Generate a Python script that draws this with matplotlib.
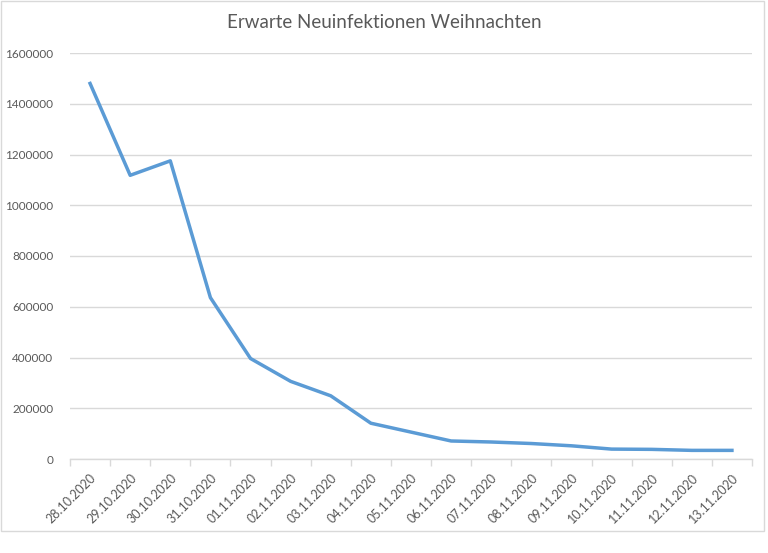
import matplotlib
matplotlib.use("Agg")
import matplotlib.pyplot as plt
from matplotlib.patches import Rectangle

dates = ["28.10.2020", "29.10.2020", "30.10.2020", "31.10.2020", "01.11.2020",
         "02.11.2020", "03.11.2020", "04.11.2020", "05.11.2020", "06.11.2020",
         "07.11.2020", "08.11.2020", "09.11.2020", "10.11.2020", "11.11.2020",
         "12.11.2020", "13.11.2020"]
values = [1480000, 1118000, 1175000, 636000, 396000,
          306000, 249000, 141000, 106000, 71000,
          67000, 61000, 52000, 39000, 38000,
          34000, 34000]
y_ticks = [0, 200000, 400000, 600000, 800000, 1000000, 1200000, 1400000, 1600000]

plt.rcParams["font.family"] = ["Lato", "DejaVu Sans"]
text_col = "#595959"
grid_col = "#d9d9d9"

fig = plt.figure(figsize=(7.68, 5.53), dpi=100)
ax = fig.add_axes([70 / 768, 1 - 459 / 553, (752 - 70) / 768, (459 - 53) / 553])

x = list(range(len(dates)))
ax.plot(x, values, color="#5b9bd5", linewidth=2.5, solid_joinstyle="round")

ax.set_xlim(-0.5, len(dates) - 0.5)
ax.set_ylim(0, 1600000)
ax.set_yticks(y_ticks)
ax.set_yticklabels([str(v) for v in y_ticks], fontsize=8.5, color=text_col)
ax.tick_params(axis="y", length=0, pad=12)
ax.yaxis.grid(True, color=grid_col, linewidth=1)
ax.set_axisbelow(True)

ax.set_xticks(x)
ax.set_xticklabels(dates, rotation=45, ha="right", va="top",
                   rotation_mode="anchor", fontsize=9, color=text_col)
ax.tick_params(axis="x", length=0, pad=9)
ax.set_xticks([i - 0.5 for i in range(len(dates) + 1)], minor=True)
ax.tick_params(axis="x", which="minor", length=5, color=grid_col, width=1)

for side in ["top", "right", "left"]:
    ax.spines[side].set_visible(False)
ax.spines["bottom"].set_color(grid_col)
ax.spines["bottom"].set_linewidth(1)

fig.text(0.5, 1 - 22 / 553, "Erwarte Neuinfektionen Weihnachten",
         ha="center", va="center", fontsize=13.5, color=text_col)

fig.patches.append(Rectangle((1 / 768, 1 - 531 / 553), 763 / 768, 530 / 553,
                             transform=fig.transFigure, fill=False,
                             edgecolor=grid_col, linewidth=1))

fig.savefig("out.png", dpi=100)
